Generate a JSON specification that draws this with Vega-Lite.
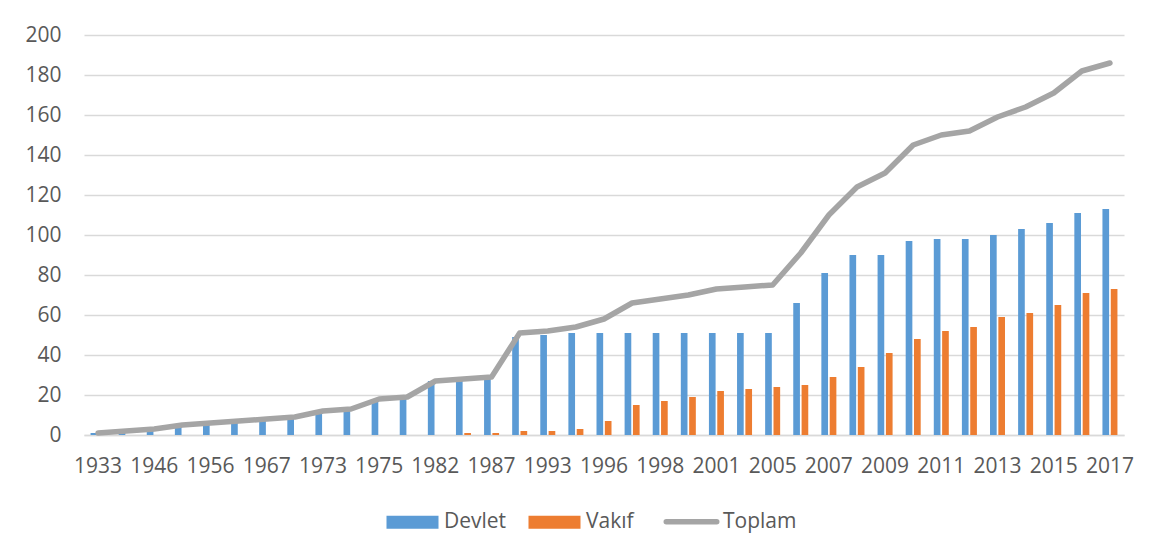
{
  "$schema": "https://vega.github.io/schema/vega-lite/v6.json",
  "width": 1040,
  "height": 400,
  "autosize": "none",
  "padding": {"left": 84, "top": 35, "right": 37, "bottom": 119},
  "background": "white",
  "config": {
    "view": {"stroke": null},
    "font": "Open Sans",
    "axis": {"labelFont": "Open Sans", "labelFontSize": 21, "labelColor": "#595959", "gridColor": "#D9D9D9", "gridWidth": 1.3, "domainColor": "#D9D9D9", "ticks": false, "tickSize": 0, "title": null}
  },
  "data": {"values": [
    {"yil":"1933","seri":"Devlet","deger":1},{"yil":"1933","seri":"Vakıf","deger":0},{"yil":"1933","seri":"Toplam","deger":1},
    {"yil":"1944","seri":"Devlet","deger":2},{"yil":"1944","seri":"Vakıf","deger":0},{"yil":"1944","seri":"Toplam","deger":2},
    {"yil":"1946","seri":"Devlet","deger":3},{"yil":"1946","seri":"Vakıf","deger":0},{"yil":"1946","seri":"Toplam","deger":3},
    {"yil":"1955","seri":"Devlet","deger":5},{"yil":"1955","seri":"Vakıf","deger":0},{"yil":"1955","seri":"Toplam","deger":5},
    {"yil":"1956","seri":"Devlet","deger":6},{"yil":"1956","seri":"Vakıf","deger":0},{"yil":"1956","seri":"Toplam","deger":6},
    {"yil":"1957","seri":"Devlet","deger":7},{"yil":"1957","seri":"Vakıf","deger":0},{"yil":"1957","seri":"Toplam","deger":7},
    {"yil":"1967","seri":"Devlet","deger":8},{"yil":"1967","seri":"Vakıf","deger":0},{"yil":"1967","seri":"Toplam","deger":8},
    {"yil":"1971","seri":"Devlet","deger":9},{"yil":"1971","seri":"Vakıf","deger":0},{"yil":"1971","seri":"Toplam","deger":9},
    {"yil":"1973","seri":"Devlet","deger":12},{"yil":"1973","seri":"Vakıf","deger":0},{"yil":"1973","seri":"Toplam","deger":12},
    {"yil":"1974","seri":"Devlet","deger":13},{"yil":"1974","seri":"Vakıf","deger":0},{"yil":"1974","seri":"Toplam","deger":13},
    {"yil":"1975","seri":"Devlet","deger":18},{"yil":"1975","seri":"Vakıf","deger":0},{"yil":"1975","seri":"Toplam","deger":18},
    {"yil":"1978","seri":"Devlet","deger":19},{"yil":"1978","seri":"Vakıf","deger":0},{"yil":"1978","seri":"Toplam","deger":19},
    {"yil":"1982","seri":"Devlet","deger":27},{"yil":"1982","seri":"Vakıf","deger":0},{"yil":"1982","seri":"Toplam","deger":27},
    {"yil":"1984","seri":"Devlet","deger":27},{"yil":"1984","seri":"Vakıf","deger":1},{"yil":"1984","seri":"Toplam","deger":28},
    {"yil":"1987","seri":"Devlet","deger":28},{"yil":"1987","seri":"Vakıf","deger":1},{"yil":"1987","seri":"Toplam","deger":29},
    {"yil":"1992","seri":"Devlet","deger":49},{"yil":"1992","seri":"Vakıf","deger":2},{"yil":"1992","seri":"Toplam","deger":51},
    {"yil":"1993","seri":"Devlet","deger":50},{"yil":"1993","seri":"Vakıf","deger":2},{"yil":"1993","seri":"Toplam","deger":52},
    {"yil":"1994","seri":"Devlet","deger":51},{"yil":"1994","seri":"Vakıf","deger":3},{"yil":"1994","seri":"Toplam","deger":54},
    {"yil":"1996","seri":"Devlet","deger":51},{"yil":"1996","seri":"Vakıf","deger":7},{"yil":"1996","seri":"Toplam","deger":58},
    {"yil":"1997","seri":"Devlet","deger":51},{"yil":"1997","seri":"Vakıf","deger":15},{"yil":"1997","seri":"Toplam","deger":66},
    {"yil":"1998","seri":"Devlet","deger":51},{"yil":"1998","seri":"Vakıf","deger":17},{"yil":"1998","seri":"Toplam","deger":68},
    {"yil":"1999","seri":"Devlet","deger":51},{"yil":"1999","seri":"Vakıf","deger":19},{"yil":"1999","seri":"Toplam","deger":70},
    {"yil":"2001","seri":"Devlet","deger":51},{"yil":"2001","seri":"Vakıf","deger":22},{"yil":"2001","seri":"Toplam","deger":73},
    {"yil":"2003","seri":"Devlet","deger":51},{"yil":"2003","seri":"Vakıf","deger":23},{"yil":"2003","seri":"Toplam","deger":74},
    {"yil":"2005","seri":"Devlet","deger":51},{"yil":"2005","seri":"Vakıf","deger":24},{"yil":"2005","seri":"Toplam","deger":75},
    {"yil":"2006","seri":"Devlet","deger":66},{"yil":"2006","seri":"Vakıf","deger":25},{"yil":"2006","seri":"Toplam","deger":91},
    {"yil":"2007","seri":"Devlet","deger":81},{"yil":"2007","seri":"Vakıf","deger":29},{"yil":"2007","seri":"Toplam","deger":110},
    {"yil":"2008","seri":"Devlet","deger":90},{"yil":"2008","seri":"Vakıf","deger":34},{"yil":"2008","seri":"Toplam","deger":124},
    {"yil":"2009","seri":"Devlet","deger":90},{"yil":"2009","seri":"Vakıf","deger":41},{"yil":"2009","seri":"Toplam","deger":131},
    {"yil":"2010","seri":"Devlet","deger":97},{"yil":"2010","seri":"Vakıf","deger":48},{"yil":"2010","seri":"Toplam","deger":145},
    {"yil":"2011","seri":"Devlet","deger":98},{"yil":"2011","seri":"Vakıf","deger":52},{"yil":"2011","seri":"Toplam","deger":150},
    {"yil":"2012","seri":"Devlet","deger":98},{"yil":"2012","seri":"Vakıf","deger":54},{"yil":"2012","seri":"Toplam","deger":152},
    {"yil":"2013","seri":"Devlet","deger":100},{"yil":"2013","seri":"Vakıf","deger":59},{"yil":"2013","seri":"Toplam","deger":159},
    {"yil":"2014","seri":"Devlet","deger":103},{"yil":"2014","seri":"Vakıf","deger":61},{"yil":"2014","seri":"Toplam","deger":164},
    {"yil":"2015","seri":"Devlet","deger":106},{"yil":"2015","seri":"Vakıf","deger":65},{"yil":"2015","seri":"Toplam","deger":171},
    {"yil":"2016","seri":"Devlet","deger":111},{"yil":"2016","seri":"Vakıf","deger":71},{"yil":"2016","seri":"Toplam","deger":182},
    {"yil":"2017","seri":"Devlet","deger":113},{"yil":"2017","seri":"Vakıf","deger":73},{"yil":"2017","seri":"Toplam","deger":186}
  ]},
  "encoding": {
    "x": {
      "field": "yil", "type": "ordinal", "sort": null,
      "scale": {"paddingInner": 0.466, "paddingOuter": 0.233},
      "axis": {"labelAngle": 0, "labelPadding": 20, "grid": false, "domain": true, "domainWidth": 1.3,
        "values": ["1933","1946","1956","1967","1973","1975","1982","1987","1993","1996","1998","2001","2005","2007","2009","2011","2013","2015","2017"]}
    },
    "y": {
      "field": "deger", "type": "quantitative",
      "scale": {"domain": [0, 200], "nice": false},
      "axis": {"values": [0,20,40,60,80,100,120,140,160,180,200], "grid": true, "domain": false, "labelPadding": 23}
    },
    "color": {
      "field": "seri", "type": "nominal",
      "scale": {"domain": ["Devlet", "Vakıf", "Toplam"], "range": ["#5B9BD5", "#ED7D31", "#A5A5A5"]},
      "legend": {
        "orient": "none", "legendX": 318, "legendY": 476, "direction": "horizontal", "title": null,
        "symbolSize": 2704, "symbolType": "M-1,-0.25H1V0.25H-1Z",
        "labelFont": "Open Sans", "labelFontSize": 21, "labelColor": "#595959", "labelOffset": 21, "columnPadding": 21,
        "encode": {"symbols": {"update": {
          "shape": {"signal": "datum.value === 'Toplam' ? 'M-0.97,0L0.97,0' : 'M-1,-0.25H1V0.25H-1Z'"},
          "fill": {"signal": "datum.value === 'Toplam' ? 'transparent' : scale('color', datum.value)"},
          "stroke": {"signal": "scale('color', datum.value)"},
          "strokeWidth": {"signal": "datum.value === 'Toplam' ? 5.5 : 0"},
          "strokeCap": {"value": "round"},
          "opacity": {"value": 1}
        }}}
      }
    }
  },
  "layer": [
    {
      "transform": [{"filter": "datum.seri !== 'Toplam'"}],
      "mark": {"type": "bar"},
      "encoding": {
        "xOffset": {"field": "seri", "type": "nominal", "sort": ["Devlet", "Vakıf"], "scale": {"paddingInner": 0.2}}
      }
    },
    {
      "transform": [{"filter": "datum.seri === 'Toplam'"}],
      "mark": {"type": "line", "strokeWidth": 5.5, "strokeCap": "round", "strokeJoin": "round"},
      "encoding": {}
    }
  ]
}
